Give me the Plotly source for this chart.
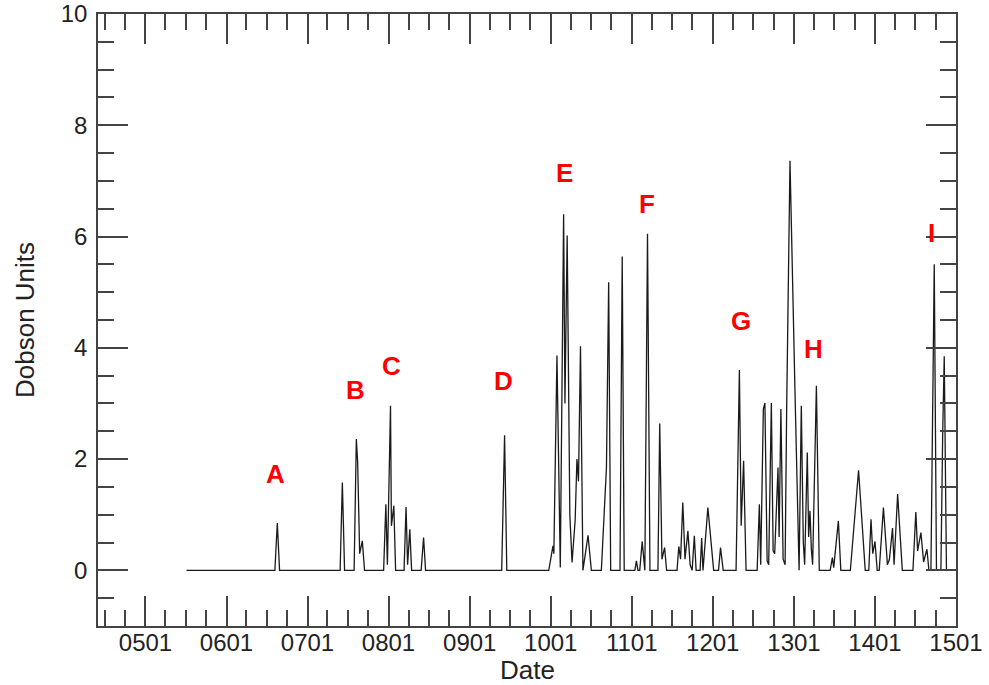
import pandas as pd
import plotly.graph_objects as go

BASE_DATE = "2005-01-01"

# Days since 2005-01-01 and the Dobson-unit value
days = [
    185, 583, 594, 604, 877, 887, 897, 940, 950, 956, 965, 977, 987,
    1073, 1083, 1090, 1104, 1108, 1119, 1127, 1165, 1174, 1181, 1191, 1199,
    1242, 1253, 1262, 1605, 1618, 1628,
    1817, 1836, 1840, 1854, 1869, 1884, 1890, 1900, 1912, 1922, 1936, 1944,
    1951, 1960, 1971, 1994, 2009, 2054, 2077, 2087, 2096, 2138, 2148, 2157,
    2205, 2212, 2219, 2227, 2238, 2250, 2262, 2273, 2309, 2317, 2327, 2339,
    2348, 2395, 2403, 2411, 2421, 2431, 2444, 2454, 2463, 2473, 2481, 2499,
    2506, 2512, 2534, 2560, 2582, 2591, 2596, 2603, 2661, 2676, 2684, 2695,
    2706, 2756, 2766, 2772, 2784, 2791, 2801, 2808, 2820, 2828, 2835, 2844,
    2850, 2855, 2863, 2873, 2882, 2889, 2904, 2926, 2945, 2955, 2964, 2970,
    2982, 2988, 2994, 3000, 3006, 3023, 3036, 3085, 3095, 3101, 3122, 3133,
    3176, 3213, 3243, 3259, 3269, 3277, 3287, 3297, 3306, 3325, 3343, 3352,
    3366, 3373, 3389, 3410, 3458, 3471, 3479, 3494, 3506, 3521, 3530, 3539,
    3546, 3554, 3564, 3584, 3592, 3599, 3609,
]
dobson = [
    0, 0, 0.85, 0, 0, 1.58, 0, 0, 2.36, 1.94, 0.3, 0.53, 0,
    0, 1.19, 0.1, 2.96, 0.8, 1.16, 0, 0, 1.14, 0.1, 0.74, 0,
    0, 0.59, 0, 0, 2.43, 0,
    0, 0.44, 0.3, 3.86, 0.05, 6.40, 3.0, 6.02, 1.0, 0.14, 0.9, 2.0,
    1.6, 4.03, 0, 0.63, 0, 0, 1.85, 5.18, 0, 0, 5.64, 0,
    0, 0.17, 0, 0, 0.52, 0, 6.05, 0, 0, 2.64, 0.2, 0.41,
    0, 0, 0.43, 0.2, 1.22, 0.2, 0.71, 0.1, 0, 0.62, 0, 0,
    0.58, 0, 1.13, 0, 0, 0.41, 0.25, 0, 0, 3.60, 0.8, 1.97,
    0, 0, 1.19, 0.1, 2.9, 3.01, 0.17, 0.1, 3.01, 0.35, 0.3, 1.5,
    1.85, 0.6, 2.90, 0.2, 0.1, 2.9, 7.36, 3.3, 0, 2.96, 0.5, 0.1,
    2.12, 0.6, 1.07, 0.4, 0.1, 3.32, 0, 0, 0.23, 0.05, 0.89, 0,
    0, 1.80, 0, 0, 0.92, 0.3, 0.52, 0, 0, 1.13, 0.1, 0.2,
    0.76, 0.1, 1.37, 0, 0, 1.05, 0.35, 0.68, 0.15, 0.38, 0, 0,
    3.1, 5.50, 0, 0, 2.45, 3.85, 0,
]

# Event labels
event_labels = ["A", "B", "C", "D", "E", "F", "G", "H", "I"]
event_days = [588, 944, 1107, 1612, 1889, 2260, 2682, 3009, 3543]
event_y = [1.74, 3.24, 3.68, 3.41, 7.14, 6.59, 4.48, 3.98, 6.06]

base = pd.Timestamp(BASE_DATE)
dates = base + pd.to_timedelta(days, unit="D")
event_dates = base + pd.to_timedelta(event_days, unit="D")

fig = go.Figure()
fig.add_trace(go.Scatter(
    x=dates, y=dobson, mode="lines",
    line=dict(color="#1a1a1a", width=1.3),
    showlegend=False, hoverinfo="skip",
))

for lab, d, yv in zip(event_labels, event_dates, event_y):
    fig.add_annotation(
        x=d, y=yv, text=lab, showarrow=False,
        font=dict(family="Liberation Sans, Arial", size=26, color="#ff0000", weight="bold"),
        xanchor="center", yanchor="middle",
    )

tick_font = dict(family="Liberation Sans, Arial", size=24, color="#222222")
title_font = dict(family="Liberation Sans, Arial", size=26, color="#222222")

# Axis titles
fig.add_annotation(
    x=0.5, y=0, xref="paper", yref="paper", text="Date", showarrow=False,
    xanchor="center", yanchor="middle", yshift=-44, font=title_font,
)
fig.add_annotation(
    x=0, y=0.5, xref="paper", yref="paper", text="Dobson Units", showarrow=False,
    xanchor="center", yanchor="middle", xshift=-73, textangle=-90, font=title_font,
)

fig.update_layout(
    width=989, height=685,
    margin=dict(l=98, r=33, t=14, b=59),
    paper_bgcolor="white", plot_bgcolor="white",
    font=tick_font,
    xaxis=dict(
        type="date", automargin=False,
        range=["2004-06-01", "2015-01-01"],
        tick0="2005-01-01", dtick="M12", tickformat="%y%m",
        ticks="inside", ticklen=30, tickwidth=1.5, tickcolor="#444444",
        minor=dict(dtick="M3", ticks="inside", ticklen=16, tickwidth=1.5, tickcolor="#444444", showgrid=False),
        showline=True, linecolor="#444444", linewidth=1.5, mirror="allticks",
        showgrid=False, zeroline=False,
        ticklabelstandoff=-6, ticklabeloverflow="allow",
        tickfont=tick_font,
    ),
    yaxis=dict(
        automargin=False,
        range=[-1, 10], tick0=0, dtick=2,
        ticks="inside", ticklen=30, tickwidth=1.5, tickcolor="#444444",
        minor=dict(dtick=0.5, ticks="inside", ticklen=16, tickwidth=1.5, tickcolor="#444444", showgrid=False),
        showline=True, linecolor="#444444", linewidth=1.5, mirror="allticks",
        showgrid=False, zeroline=False,
        ticklabelstandoff=4, ticklabeloverflow="allow",
        tickfont=tick_font,
    ),
)

# Remove the default page margin so the 989x685 figure fills the window exactly
fig.write_html(
    "out.html",
    config={"displayModeBar": False},
    post_script="document.body.style.margin='0';",
)
